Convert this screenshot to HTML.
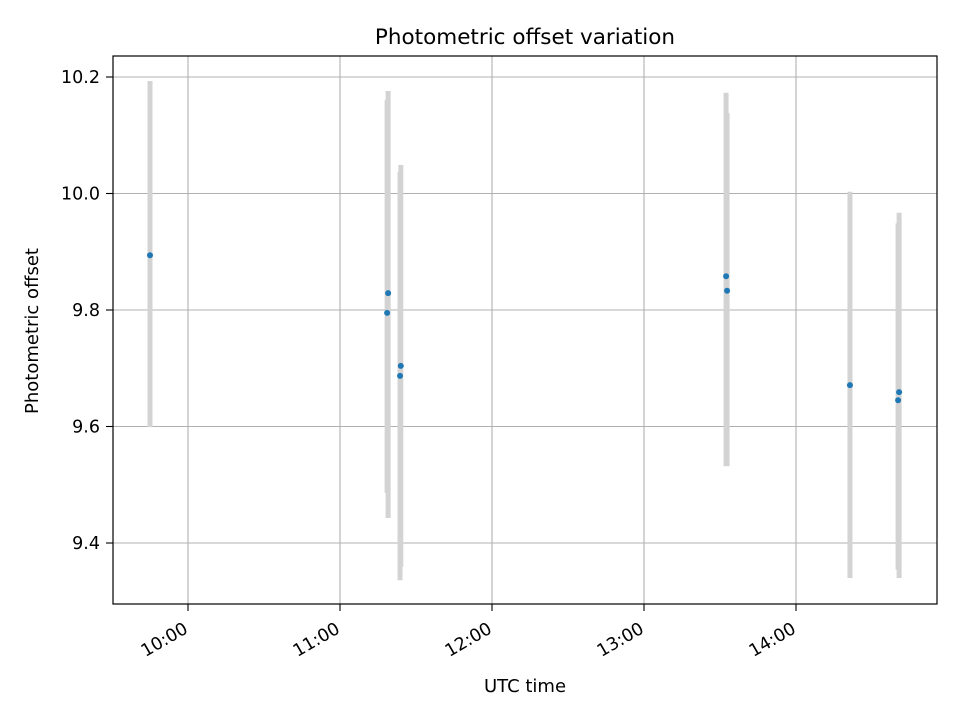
<!DOCTYPE html>
<html><head><meta charset="utf-8"><style>body{margin:0;background:#fff}svg{display:block;font-family:"DejaVu Sans","Liberation Sans",sans-serif}</style></head>
<body>
<svg id="chart" width="960" height="720" viewBox="0 0 960 720">
<rect x="0" y="0" width="960" height="720" fill="#fff"/>
<g id="grid"></g>
<g id="marks"></g>
<rect x="113" y="56" width="824" height="548" fill="none" stroke="#000" stroke-width="1.2"/>
<g id="axes"></g>
<text x="525" y="44" font-size="21.5" text-anchor="middle">Photometric offset variation</text>
<text x="525" y="692" font-size="18" text-anchor="middle">UTC time</text>
<text x="38" y="331" font-size="18" text-anchor="middle" transform="rotate(-90 38 331)">Photometric offset</text>
</svg>
<script>
const times=["09:45","11:19","11:18.6","11:24","11:23.7","13:32.4","13:32.8","14:21.3","14:40.7","14:40.3"];
const values=[9.894,9.829,9.795,9.704,9.687,9.858,9.833,9.671,9.659,9.645];
const upper=[10.193,10.176,10.161,10.049,10.037,10.173,10.138,10.003,9.967,9.949];
const lower=[9.599,9.443,9.486,9.359,9.336,9.532,9.532,9.340,9.340,9.354];
const yTicks=[9.4,9.6,9.8,10.0,10.2];
const yTickLabels=["9.4","9.6","9.8","10.0","10.2"];
const xTicks=[10,11,12,13,14];
const xTickLabels=["10:00","11:00","12:00","13:00","14:00"];
const NS="http://www.w3.org/2000/svg";
function toH(s){const p=s.split(":");return +p[0]+(+p[1])/60;}
function xs(h){return 188+(h-10)*152;}
function ys(v){return 77+(10.2-v)*582.5;}
function mk(tag,at,parent){const e=document.createElementNS(NS,tag);for(const k in at)e.setAttribute(k,at[k]);parent.appendChild(e);return e;}
const grid=document.getElementById('grid'),axes=document.getElementById('axes'),marks=document.getElementById('marks');
yTicks.forEach((t,i)=>{const y=ys(t);
const g=mk('line',{x1:113,x2:937,y1:y,y2:y,stroke:'#b0b0b0','stroke-width':1.1},grid);

const tk=mk('line',{x1:106,x2:113,y1:y,y2:y,stroke:'#000','stroke-width':1.1},axes);

const tx=mk('text',{x:100,y:y+6,'font-size':17.5,'text-anchor':'end'},axes);tx.textContent=yTickLabels[i];
});
xTicks.forEach((t,i)=>{const x=xs(t);
const g=mk('line',{x1:x,x2:x,y1:56,y2:604,stroke:'#b0b0b0','stroke-width':1.1},grid);

const tk=mk('line',{x1:x,x2:x,y1:604,y2:611,stroke:'#000','stroke-width':1.1},axes);

const tx=mk('text',{x:x+1,y:632,'font-size':17.5,'text-anchor':'end',transform:`rotate(-30 ${x+1} 632)`},axes);tx.textContent=xTickLabels[i];
});
times.forEach((t,i)=>{const x=xs(toH(t));
const b=mk('line',{x1:x,x2:x,y1:ys(upper[i]),y2:ys(lower[i]),stroke:'#d3d3d3','stroke-width':5},marks);
});
times.forEach((t,i)=>{const x=xs(toH(t));
const c=mk('circle',{cx:x,cy:ys(values[i]),r:3,fill:'#1f77b4'},marks);
});
</script>
</body></html>
